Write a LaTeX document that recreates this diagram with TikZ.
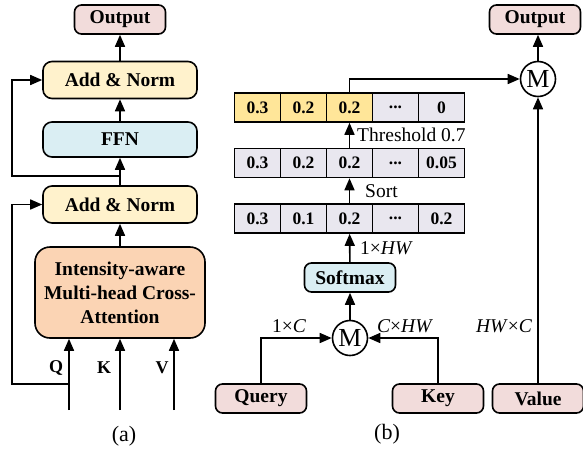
\documentclass[tikz,border=0pt]{standalone}
\usepackage{fontspec}
\setmainfont{Liberation Serif}
\usetikzlibrary{arrows.meta,positioning}

\definecolor{iopink}{HTML}{F2DCDB}
\definecolor{normyellow}{HTML}{FFF2CC}
\definecolor{ffnblue}{HTML}{DAEEF3}
\definecolor{attnorange}{HTML}{FBD4B4}
\definecolor{cellgray}{HTML}{E9E7EF}
\definecolor{cellyellow}{HTML}{FFE699}

\tikzset{
	box/.style={draw, line width=1.6pt, rounded corners=9pt, inner sep=0pt, align=center,
		font=\fontsize{19.5}{24}\selectfont\bfseries},
	io/.style={box, fill=iopink, minimum width=91pt, minimum height=29pt, rounded corners=7pt},
	norm/.style={box, fill=normyellow, minimum width=154pt, minimum height=37pt},
	cell/.style={draw, line width=1.6pt, fill=cellgray, minimum width=46pt, minimum height=29pt,
		inner sep=0pt, font=\fontsize{17.5}{20}\selectfont\bfseries},
	mult/.style={draw, circle, line width=1.6pt, fill=white, minimum size=35pt, inner sep=0pt,
		font=\fontsize{26}{28}\selectfont},
	lbl/.style={font=\fontsize{19.5}{22}\selectfont, inner sep=0pt},
	arr/.style={line width=1.6pt, -{Triangle[length=12pt,width=10pt]}}
}

\begin{document}
\begin{tikzpicture}[x=1pt, y=-1pt]
	\useasboundingbox (0,0) rectangle (583,456);
	
	% (a) decoder layer
	\node[io] (out_a) at (120,19.5) {Output};
	\node[norm] (norm2) at (120,80) {Add \& Norm};
	\node[box, fill=ffnblue, minimum width=154pt, minimum height=35pt] (ffn) at (120,139.5) {FFN};
	\node[norm] (norm1) at (120,204.5) {Add \& Norm};
	\node[box, fill=attnorange, minimum width=170pt, minimum height=91pt, rounded corners=15pt] (attn) at (120,292.5)
		{Intensity-aware\\Multi-head Cross-\\Attention};
	
	\coordinate (q_in) at (69,410);
	\coordinate (k_in) at (120,410);
	\coordinate (v_in) at (174,410);
	\coordinate (q_split) at (69,384);
	\coordinate (ffn_split) at (120,176);
	
	\draw[arr] (q_in) -- (q_in |- attn.south);
	\draw[arr] (k_in) -- (k_in |- attn.south);
	\draw[arr] (v_in) -- (v_in |- attn.south);
	\node[lbl, font=\fontsize{18}{20}\selectfont\bfseries] (q_lbl) at (56,368) {Q};
	\node[lbl, font=\fontsize{18}{20}\selectfont\bfseries] (k_lbl) at (104,368) {K};
	\node[lbl, font=\fontsize{18}{20}\selectfont\bfseries] (v_lbl) at (162,368) {V};
	
	\draw[arr] (attn) -- (norm1);
	\draw[arr] (norm1) -- (ffn);
	\draw[arr] (ffn) -- (norm2);
	\draw[arr] (norm2) -- (out_a);
	\draw[arr] (q_split) -- ++(-57,0) |- (norm1.west);
	\draw[arr] (ffn_split) -- ++(-108,0) |- (norm2.west);
	
	\node[lbl, font=\fontsize{22}{24}\selectfont] (cap_a) at (124,436) {(a)};
	
	% (b) selection
	\foreach \v/\f [count=\i] in {0.3/cellyellow,0.2/cellyellow,0.2/cellyellow,{...}/cellgray,0/cellgray}
		\node[cell, fill=\f] (r1c\i) at (211.5+46*\i,107.5) {\v};
	\foreach \v/\y [count=\i] in {0.3/163,0.2/163,0.2/163,{...}/163,0.05/163}
		\node[cell] (r2c\i) at (211.5+46*\i,\y) {\v};
	\foreach \v/\y [count=\i] in {0.3/218.5,0.1/218.5,0.2/218.5,{...}/218.5,0.2/218.5}
		\node[cell] (r3c\i) at (211.5+46*\i,\y) {\v};
	
	\node[box, fill=ffnblue, minimum width=91pt, minimum height=29pt, rounded corners=7pt] (softmax) at (350,277.5) {Softmax};
	\node[mult] (mul_qk) at (350,338) {M};
	\node[mult] (mul_v) at (538,79) {M};
	\node[io] (out_b) at (535,19.5) {Output};
	\node[io] (query) at (261,398.5) {Query};
	\node[io] (key) at (438,398.5) {Key};
	\node[io] (value) at (538,398.5) {Value};
	
	\draw[arr] (query.north) |- (mul_qk.west);
	\draw[arr] (key.north) |- (mul_qk.east);
	\draw[arr] (value) -- (mul_v);
	\draw[arr] (mul_qk) -- (softmax);
	\draw[arr] (softmax) -- (r3c3);
	\draw[arr] (r3c3) -- (r2c3);
	\draw[arr] (r2c3) -- (r1c3);
	\draw[arr] (r1c3.north) |- (mul_v.west);
	\draw[arr] (mul_v.north) -- (mul_v |- out_b.south);
	
	\node[lbl, anchor=west] (thr_lbl) at (357,135) {Threshold 0.7};
	\node[lbl, anchor=west] (sort_lbl) at (365,191) {Sort};
	\node[lbl, anchor=west] (hw_lbl) at (360,248) {1×\textit{HW}};
	\node[lbl] (c_lbl) at (289,326) {1×\textit{C}};
	\node[lbl] (chw_lbl) at (405,326) {\textit{C}×\textit{HW}};
	\node[lbl] (hwc_lbl) at (504,326) {\textit{HW}×\textit{C}};
	
	\node[lbl, font=\fontsize{22}{24}\selectfont] (cap_b) at (387,434) {(b)};
\end{tikzpicture}
\end{document}
